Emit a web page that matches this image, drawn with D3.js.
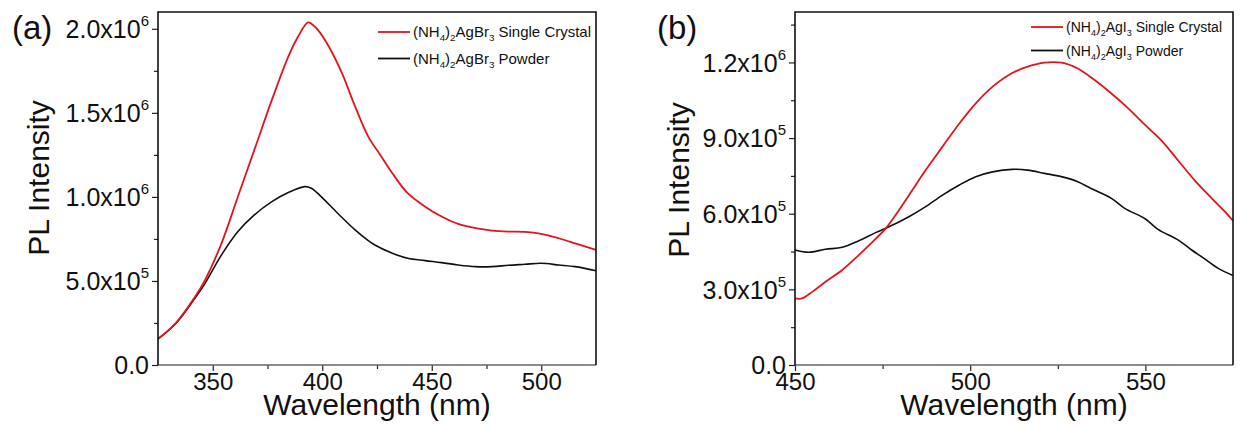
<!DOCTYPE html>
<html>
<head>
<meta charset="utf-8">
<script src="https://cdn.jsdelivr.net/npm/d3@7"></script>
<style>
  body { margin: 0; background: #fff; }
  svg { display: block; font-family: "Liberation Sans", Arial, sans-serif; }
</style>
</head>
<body>
<svg id="chart" width="1243" height="425"></svg>
<script>
// panel (a): (NH4)2AgBr3, intensity in units of 1e6
const crystalA = [[325,0.155],[333,0.248],[342,0.407],[346.5,0.506],[354,0.724],[361.5,1.002],[369,1.28],[377,1.577],[384.5,1.835],[389,1.954],[393.5,2.038],[396,2.02],[398,1.994],[403,1.895],[409,1.736],[415,1.538],[421,1.359],[426.5,1.25],[432,1.141],[439,1.022],[447,0.942],[454.5,0.883],[462,0.839],[470,0.814],[477.5,0.8],[485,0.794],[492.5,0.792],[500,0.78],[508,0.754],[515.5,0.724],[525,0.685]]
const powderA = [[325,0.155],[333,0.245],[342,0.4],[346.5,0.486],[354,0.655],[361.5,0.794],[369,0.893],[377,0.972],[384.5,1.026],[392,1.061],[395,1.052],[399.5,1.002],[407,0.903],[415,0.804],[421,0.74],[424,0.714],[432,0.665],[439,0.635],[447,0.621],[454.5,0.609],[462,0.595],[470,0.585],[477.5,0.585],[485,0.593],[492.5,0.599],[500,0.605],[508,0.595],[515.5,0.585],[525,0.561]]

// panel (b): (NH4)2AgI3, intensity in units of 1e5
const crystalB = [[450,2.64],[452,2.64],[455,2.91],[458.7,3.3],[463.5,3.77],[468.2,4.36],[473,5.0],[475.9,5.42],[479.7,6.15],[483.5,6.94],[487.3,7.73],[492.1,8.66],[496.9,9.58],[501.6,10.38],[506.4,11.04],[512,11.58],[516.4,11.83],[521.2,11.99],[526,11.99],[530.7,11.76],[535.5,11.3],[540.3,10.77],[545.1,10.18],[549.9,9.52],[554.6,8.9],[559.4,8.1],[564.2,7.3],[569,6.6],[572.7,6.08],[575,5.72]]
const powderB = [[450,4.56],[453.9,4.47],[458.7,4.59],[463.5,4.67],[468.2,4.93],[473,5.25],[475.9,5.42],[482.5,5.88],[487.3,6.28],[492.1,6.74],[496.9,7.14],[501.6,7.47],[506.4,7.66],[512,7.76],[516.4,7.73],[521.2,7.6],[526,7.47],[530.7,7.27],[534.5,7.0],[540.3,6.61],[544.1,6.21],[549.9,5.8],[553.6,5.38],[559.4,4.95],[563.2,4.56],[566.5,4.25],[570.8,3.83],[575,3.55]]

const xMajorA = [350, 400, 450, 500]
const xMinorA = [375, 425, 475]
const yMajorA = [0, 5e5, 1e6, 1.5e6, 2e6]
const yMinorA = [2.5e5, 7.5e5, 1.25e6, 1.75e6]

const xMajorB = [450, 500, 550]
const xMinorB = [475, 525]
const yMajorB = [0, 3e5, 6e5, 9e5, 1.2e6]
const yMinorB = [1.5e5, 4.5e5, 7.5e5, 1.05e6, 1.35e6]

const legendA = [["AgBr", "Single Crystal"], ["AgBr", "Powder"]]
const legendB = [["AgI", "Single Crystal"], ["AgI", "Powder"]]

const RED = "#e3141b"
const svg = d3.select("#chart")

function sci(v) {
  if (v === 0) return { m: "0.0", e: null }
  let e = Math.floor(Math.log10(v) + 1e-9)
  return { m: (v / Math.pow(10, e)).toFixed(1) + "x10", e: e }
}

function drawPanel(p) {
  let x = d3.scaleLinear().domain(p.xDomain).range([p.left, p.right])
  let y = d3.scaleLinear().domain(p.yDomain).range([p.bottom, p.top])
  let g = svg.append("g")

  // minor ticks
  g.append("g").attr("transform", `translate(0,${p.bottom})`)
    .call(d3.axisBottom(x).tickValues(p.xMinor).tickSize(4).tickFormat(""))
    .call(a => a.select(".domain").remove())
  g.append("g").attr("transform", `translate(${p.left},0)`)
    .call(d3.axisLeft(y).tickValues(p.yMinor).tickSize(4).tickFormat(""))
    .call(a => a.select(".domain").remove())

  // major ticks + labels
  let xa = g.append("g").attr("transform", `translate(0,${p.bottom})`)
    .call(d3.axisBottom(x).tickValues(p.xMajor).tickSize(6).tickPadding(2).tickFormat(d3.format("d")))
  xa.select(".domain").remove()
  xa.selectAll("text").attr("font-size", 24).attr("fill", "#111")

  let ya = g.append("g").attr("transform", `translate(${p.left},0)`)
    .call(d3.axisLeft(y).tickValues(p.yMajor).tickSize(6).tickPadding(3).tickFormat(""))
  ya.select(".domain").remove()
  ya.selectAll(".tick text").each(function (d) {
    let t = d3.select(this).text(null).attr("font-size", 25).attr("fill", "#111").attr("dy", "0.35em")
    let s = sci(d)
    t.append("tspan").text(s.m)
    if (s.e !== null) t.append("tspan").attr("font-size", 15).attr("dy", -12).text(s.e)
  })
  g.selectAll(".tick line").attr("stroke", "#222").attr("stroke-width", 1.2)

  // lines
  let line = d3.line().x(d => x(d[0])).y(d => y(d[1] * p.unit)).curve(d3.curveCatmullRom)
  g.append("path").datum(p.powder).attr("d", line)
    .attr("fill", "none").attr("stroke", "#111").attr("stroke-width", 1.6)
  g.append("path").datum(p.crystal).attr("d", line)
    .attr("fill", "none").attr("stroke", RED).attr("stroke-width", 1.8)

  // frame
  g.append("line").attr("x1", p.left).attr("x2", p.right).attr("y1", p.bottom).attr("y2", p.bottom)
    .attr("stroke", "#666").attr("stroke-width", 1.6)
  g.append("path").attr("d", `M${p.left},${p.bottom}V${p.top}H${p.right}V${p.bottom}`)
    .attr("fill", "none").attr("stroke", "#111").attr("stroke-width", 1.6)

  // legend
  let colors = [RED, "#111"]
  p.legend.forEach((l, i) => {
    let ly = p.legY + i * p.legGap
    g.append("line").attr("x1", p.legX).attr("x2", p.legX + 32).attr("y1", ly).attr("y2", ly)
      .attr("stroke", colors[i]).attr("stroke-width", 1.8)
    let t = g.append("text").attr("x", p.legX + 35).attr("y", ly + 5)
      .attr("font-size", p.legFont).attr("fill", "#111")
    t.append("tspan").text("(NH")
    t.append("tspan").attr("font-size", p.legFont * 0.65).attr("dy", 4).text("4")
    t.append("tspan").attr("dy", -4).text(")")
    t.append("tspan").attr("font-size", p.legFont * 0.65).attr("dy", 4).text("2")
    t.append("tspan").attr("dy", -4).text(l[0])
    t.append("tspan").attr("font-size", p.legFont * 0.65).attr("dy", 4).text("3")
    t.append("tspan").attr("dy", -4).text(" " + l[1])
  })

  // titles
  g.append("text").attr("x", (p.left + p.right) / 2).attr("y", 415)
    .attr("text-anchor", "middle").attr("font-size", 30).attr("fill", "#111")
    .text("Wavelength (nm)")
  g.append("text").attr("transform", `translate(${p.yTitleX},${p.yTitleY}) rotate(-90)`)
    .attr("text-anchor", "middle").attr("font-size", 30).attr("fill", "#111")
    .text("PL Intensity")
  g.append("text").attr("x", p.tagX).attr("y", 39).attr("font-size", 33).attr("fill", "#111")
    .text(p.tag)
}

drawPanel({
  left: 158, right: 596, top: 12, bottom: 365,
  xDomain: [325, 525], yDomain: [0, 2.1e6], unit: 1e6,
  xMajor: xMajorA, xMinor: xMinorA, yMajor: yMajorA, yMinor: yMinorA,
  crystal: crystalA, powder: powderA,
  legend: legendA, legX: 378, legY: 32, legGap: 26.5, legFont: 15,
  yTitleX: 49, yTitleY: 178, tagX: 12, tag: "(a)"
})

drawPanel({
  left: 795, right: 1233, top: 12, bottom: 365,
  xDomain: [450, 575], yDomain: [0, 1.4e6], unit: 1e5,
  xMajor: xMajorB, xMinor: xMinorB, yMajor: yMajorB, yMinor: yMinorB,
  crystal: crystalB, powder: powderB,
  legend: legendB, legX: 1031, legY: 27, legGap: 23.5, legFont: 14,
  yTitleX: 689, yTitleY: 180, tagX: 657, tag: "(b)"
})
</script>
</body>
</html>
